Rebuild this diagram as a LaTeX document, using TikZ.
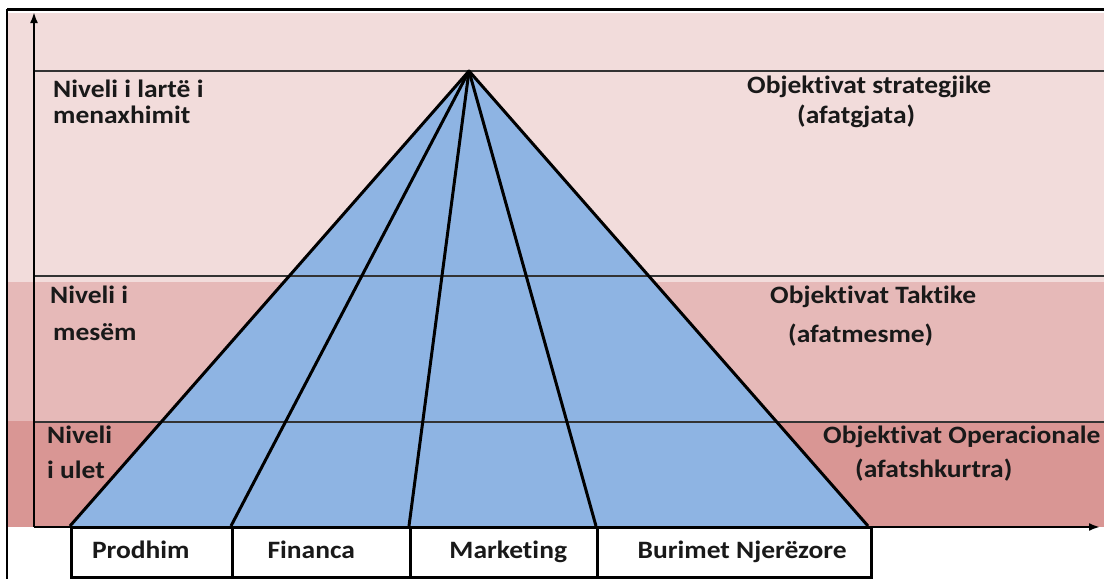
\documentclass[tikz,border=0pt]{standalone}
\usepackage{fontspec}
\setmainfont[FakeStretch=1.1,RawFeature={-liga}]{Carlito}
\usetikzlibrary{arrows.meta}
\definecolor{bandtop}{HTML}{F2DCDB}
\definecolor{bandmid}{HTML}{E6B9B8}
\definecolor{bandlow}{HTML}{D99694}
\definecolor{pyr}{HTML}{8EB4E3}
\definecolor{rule}{HTML}{333333}
\begin{document}
\begin{tikzpicture}[x=1pt,y=-1pt,
  lbl/.style={anchor=base west,inner sep=0pt,font=\fontsize{25}{25}\selectfont\bfseries,text=black!90},
  unitbox/.style={draw=black,line width=2.5pt,fill=white,minimum height=50pt,inner sep=0pt,
    text height=17pt,text depth=5pt,
    font=\fontsize{25}{25}\selectfont\bfseries,text=black!90,anchor=north west},
  edge/.style={line width=3pt,line join=round},
  level/.style={draw=rule,line width=1.5pt},
  axis/.style={line width=2.5pt,-{Latex[length=11pt,width=8pt]}}]
\useasboundingbox (0,0) rectangle (1104,579);
\fill[white] (0,0) rectangle (1104,579);
% horizontal bands
\fill[bandtop] (8,13) rectangle (1104,282);
\fill[bandmid] (8,282) rectangle (1104,421);
\fill[bandlow] (8,421) rectangle (1104,527);
% frame
\draw[line width=3pt] (7,9) -- (1104,9);
\draw[line width=2pt] (7,9) -- (7,579);
% level rules
\draw[level] (34,71) -- (1104,71);
\draw[level] (34,276) -- (1104,276);
\draw[level] (34,422) -- (1104,422);
% functional units along the base
\node[unitbox,minimum width=161pt] (prod) at (70,526) {Prodhim\hspace*{22pt}};
\node[unitbox,minimum width=178pt] (fin) at (231,526) {Financa\hspace*{20pt}};
\node[unitbox,minimum width=187pt] (mkt) at (409,526) {\hspace*{9pt}Marketing};
\node[unitbox,minimum width=274pt] (hr) at (596,526) {\hspace*{16pt}Burimet Njerëzore};
% pyramid
\coordinate (apex) at (469,71);
\coordinate (bl) at (70,526);
\coordinate (br) at (868,526);
\fill[pyr] (apex) -- (bl) -- (br) -- cycle;
\draw[level] (290,276) -- (649,276);
\draw[level] (163,422) -- (776,422);
\draw[edge] (bl) -- (apex) -- (br);
\draw[edge] (apex) -- (fin.north west);
\draw[edge] (apex) -- (mkt.north west);
\draw[edge] (apex) -- (hr.north west);
% axes
\draw[axis] (34,527) -- (34,12);
\draw[axis] (34,527) -- (1100,527);
% level names
\node[lbl] (n1a) at (53,97) {Niveli i lartë i};
\node[lbl] (n1b) at (53,123) {menaxhimit};
\node[lbl] (n2a) at (50,303) {Niveli i};
\node[lbl] (n2b) at (53,340) {mesëm};
\node[lbl] (n3a) at (47,443) {Niveli};
\node[lbl] (n3b) at (47,478) {i ulet};
% objectives
\node[lbl] (o1a) at (747,93) {Objektivat strategjike};
\node[lbl] (o1b) at (797,123) {(afatgjata)};
\node[lbl] (o2a) at (770,303) {Objektivat Taktike};
\node[lbl] (o2b) at (788,342) {(afatmesme)};
\node[lbl] (o3a) at (823,443) {Objektivat Operacionale};
\node[lbl] (o3b) at (855,477) {(afatshkurtra)};
\end{tikzpicture}
\end{document}
